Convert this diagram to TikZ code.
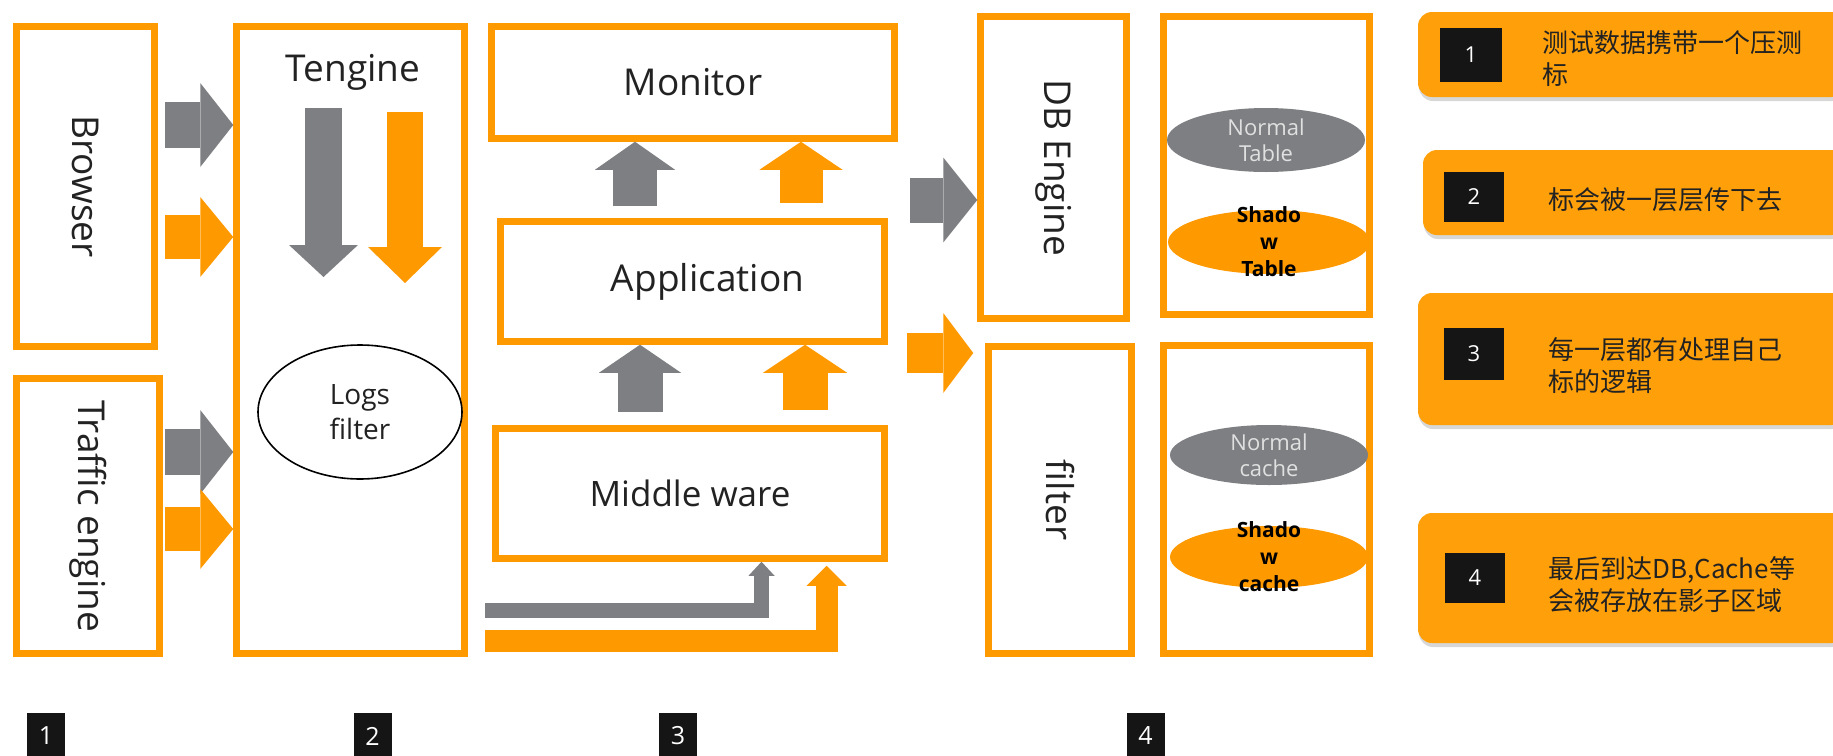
\documentclass[tikz,border=0pt]{standalone}
\usepackage{fontspec}
\setmainfont{Open Sans}
\newfontfamily\cjk{Noto Sans CJK SC}
\usetikzlibrary{arrows.meta,shapes.geometric,shadows}
\definecolor{tagorange}{HTML}{FF9900}
\definecolor{noteorange}{HTML}{FFA00A}
\definecolor{flowgray}{HTML}{7D7F82}
\definecolor{inkdark}{HTML}{222222}
\definecolor{tagblack}{HTML}{151515}
\begin{document}
\begin{tikzpicture}[x=1pt,y=-1pt,
  frame/.style={draw=tagorange, line width=6.5pt, fill=white, inner sep=0pt, text=inkdark},
  bigtext/.style={font=\fontsize{37}{44}\selectfont},
  blockarrow/.style n args={3}{line width=#1, -{Triangle[width=#2,length=#3,line width=0pt]}},
  grayflow/.style={draw=flowgray, color=flowgray},
  orangeflow/.style={draw=tagorange, color=tagorange},
  normalstore/.style={ellipse, fill=flowgray, inner sep=0pt},
  shadowstore/.style={ellipse, fill=tagorange, inner sep=0pt},
  normaltext/.style={align=center, text=white!88!black, font=\fontsize{22}{26}\selectfont},
  shadowtext/.style={align=center, text=black, font=\bfseries\fontsize{21}{27}\selectfont},
  note/.style={fill=noteorange, rounded corners=14pt, inner sep=0pt,
               drop shadow={shadow xshift=1pt, shadow yshift=-4pt, opacity=0.22, fill=black!70}},
  tagsq/.style={fill=tagblack, text=white, inner sep=0pt},
  notetext/.style={anchor=west, align=left, inner sep=0pt, text=inkdark, font=\cjk\fontsize{26}{32}\selectfont}
]
\useasboundingbox (0,0) rectangle (1833,755);
\fill[white] (0,0) rectangle (1833,755);

% ---- layer frames ----
\node[frame, bigtext, minimum width=138pt, minimum height=320pt] (browser) at (85.5,186.5) {\rotatebox{-90}{Browser}};
\node[frame, bigtext, minimum width=143pt, minimum height=275pt] (traffic) at (88,516) {\rotatebox{-90}{Traffic engine}};
\node[frame, minimum width=228pt, minimum height=627pt] (tengine) at (350.5,340) {};
\node[bigtext, text=inkdark] (tenginetitle) at (353,72) {Tengine};
\node[ellipse, draw=black, line width=1.6pt, fill=white, inner sep=0pt, minimum width=204pt, minimum height=134pt,
      align=center, text=inkdark, font=\fontsize{28}{35}\selectfont] (logs) at (360,412) {Logs\\filter};

\node[frame, bigtext, minimum width=403pt, minimum height=112pt] (monitor) at (693,82.5) {Monitor};
\node[frame, minimum width=384pt, minimum height=120pt,
      label={[bigtext, text=inkdark, xshift=15pt]center:Application}] (app) at (692.5,281.5) {};
\node[frame, font=\fontsize{35}{42}\selectfont, minimum width=389pt, minimum height=130pt] (mw) at (690,493.5) {Middle ware};

\node[frame, bigtext, minimum width=146pt, minimum height=302pt] (dbe) at (1053.5,167.5) {\rotatebox{-90}{DB Engine}};
\node[frame, bigtext, minimum width=143pt, minimum height=307pt] (filt) at (1060,500) {\rotatebox{-90}{filter}};

\node[frame, minimum width=206pt, minimum height=298pt] (tbl) at (1266.5,165.5) {};
\node[frame, minimum width=206pt, minimum height=308pt] (cch) at (1266.5,499.5) {};

% ---- storage ellipses ----
\node[normalstore, minimum width=198pt, minimum height=64pt] (ntable) at (1266,140) {};
\node[normaltext] (ntabletext) at (ntable) {Normal\\Table};
\node[shadowstore, minimum width=202pt, minimum height=64pt] (stable) at (1269,242) {};
\node[shadowtext] (stabletext) at (stable) {Shado\\w\\Table};
\node[normalstore, minimum width=198pt, minimum height=60pt] (ncache) at (1269,455) {};
\node[normaltext] (ncachetext) at (ncache) {Normal\\cache};
\node[shadowstore, minimum width=198pt, minimum height=62pt] (scache) at (1269,557) {};
\node[shadowtext] (scachetext) at (scache) {Shado\\w\\cache};

% ---- flow arrows: entry layer to Tengine ----
\coordinate (a1) at (165,125);
\coordinate (a2) at (165,237);
\coordinate (a3) at (165,452);
\coordinate (a4) at (165,529);
\draw[grayflow, blockarrow={46pt}{84pt}{33pt}] (a1) -- (a1 -| tengine.west);
\draw[orangeflow, blockarrow={44pt}{80pt}{33pt}] (a2) -- (a2 -| tengine.west);
\draw[grayflow, blockarrow={46pt}{84pt}{33pt}] (a3) -- (a3 -| tengine.west);
\draw[orangeflow, blockarrow={44pt}{80pt}{33pt}] (a4) -- (a4 -| tengine.west);

% ---- inside Tengine ----
\coordinate (d1s) at (323.5,108);
\coordinate (d1e) at (323.5,277);
\coordinate (d2s) at (405,112);
\coordinate (d2e) at (405,283);
\draw[grayflow, blockarrow={37pt}{69pt}{32pt}] (d1s) -- (d1e);
\draw[orangeflow, blockarrow={36pt}{74pt}{36pt}] (d2s) -- (d2e);

% ---- application stack ----
\coordinate (u1) at (635,206);
\coordinate (u2) at (801,203);
\coordinate (u3) at (640,412);
\coordinate (u4) at (805,410);
\draw[grayflow, blockarrow={44pt}{80pt}{28pt}] (u1) -- (u1 |- monitor.south);
\draw[orangeflow, blockarrow={43pt}{83pt}{28pt}] (u2) -- (u2 |- monitor.south);
\draw[grayflow, blockarrow={45pt}{82pt}{28pt}] (u3) -- (u3 |- app.south);
\draw[orangeflow, blockarrow={45pt}{84pt}{28pt}] (u4) -- (u4 |- app.south);

\coordinate (l1) at (485,610.5);
\coordinate (l1up) at (761.5,600);
\coordinate (l2) at (485,641);
\coordinate (l2up) at (826.5,600);
\draw[grayflow, line join=miter, blockarrow={15pt}{26pt}{14pt}] (l1) -| (l1up |- mw.south);
\draw[orangeflow, line join=miter, blockarrow={22pt}{40pt}{20pt}] (l2) -| ([yshift=-4pt]l2up |- mw.south);

% ---- to storage layer ----
\coordinate (r1) at (910,200);
\coordinate (r2) at (907,353);
\draw[grayflow, blockarrow={45pt}{85pt}{34pt}] (r1) -- (r1 -| dbe.west);
\draw[orangeflow, blockarrow={40pt}{80pt}{30pt}] (r2) -- ([xshift=-12pt]r2 -| filt.west);

% ---- step markers ----
\node[tagsq, minimum width=38pt, minimum height=46pt, font=\fontsize{25}{30}\selectfont] (step1) at (46,736) {1};
\node[tagsq, minimum width=38pt, minimum height=46pt, font=\fontsize{25}{30}\selectfont] (step2) at (372.5,736) {2};
\node[tagsq, minimum width=38pt, minimum height=46pt, font=\fontsize{25}{30}\selectfont] (step3) at (678,736) {3};
\node[tagsq, minimum width=38pt, minimum height=46pt, font=\fontsize{25}{30}\selectfont] (step4) at (1145.5,736) {4};

% ---- notes ----
\node[note, minimum width=427pt, minimum height=85pt] (note1) at (1631.5,54.5) {};
\node[note, minimum width=422pt, minimum height=85pt] (note2) at (1634,192.5) {};
\node[note, minimum width=427pt, minimum height=132pt] (note3) at (1631.5,359) {};
\node[note, minimum width=427pt, minimum height=130pt] (note4) at (1631.5,578) {};

\node[tagsq, minimum width=62pt, minimum height=54pt, font=\fontsize{22}{26}\selectfont] (tag1) at (1471,55) {1};
\node[tagsq, minimum width=60pt, minimum height=50pt, font=\fontsize{22}{26}\selectfont] (tag2) at (1474,197) {2};
\node[tagsq, minimum width=60pt, minimum height=52pt, font=\fontsize{22}{26}\selectfont] (tag3) at (1474,354) {3};
\node[tagsq, minimum width=60pt, minimum height=50pt, font=\fontsize{22}{26}\selectfont] (tag4) at (1475,578) {4};

\node[notetext] (text1) at (1542,58.5) {测试数据携带一个压测\\标};
\node[notetext] (text2) at (1548,200) {标会被一层层传下去};
\node[notetext] (text3) at (1548,366) {每一层都有处理自己\\标的逻辑};
\node[notetext] (text4) at (1548,585) {最后到达DB,Cache等\\会被存放在影子区域};
\end{tikzpicture}
\end{document}
